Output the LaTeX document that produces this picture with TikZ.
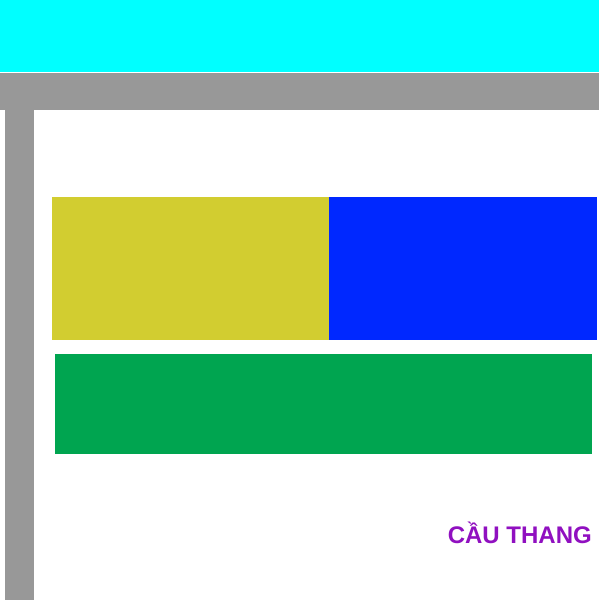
\documentclass[tikz,border=0pt]{standalone}
\usepackage{fontspec}
\setmainfont{Liberation Sans}
\definecolor{skyc}{HTML}{00FFFF}
\definecolor{wallg}{HTML}{989898}
\definecolor{yel}{HTML}{D2CD30}
\definecolor{blu}{HTML}{0028FF}
\definecolor{grn}{HTML}{00A550}
\definecolor{pur}{HTML}{9010C0}
\begin{document}
\begin{tikzpicture}[x=1pt,y=-1pt,
  blk/.style={draw=none}]
\useasboundingbox[fill=white] (0,0) rectangle (600,600);
\fill[skyc] (0,0) rectangle (599,72);
\fill[wallg] (0,73) rectangle (599,110);
\fill[wallg] (5,110) rectangle (34,600);
\node[blk,fill=yel,minimum width=277pt,minimum height=143pt,inner sep=0,anchor=north west] (y) at (52,197) {};
\node[blk,fill=blu,minimum width=268pt,minimum height=143pt,inner sep=0,anchor=north west] (b) at (329,197) {};
\node[blk,fill=grn,minimum width=537pt,minimum height=100pt,inner sep=0,anchor=north west] (g) at (55,354) {};
\node[text=pur,font=\bfseries\fontsize{24}{28}\selectfont,inner sep=0,anchor=base east] (t) at (592,543) {CẦU THANG};
\end{tikzpicture}
\end{document}
